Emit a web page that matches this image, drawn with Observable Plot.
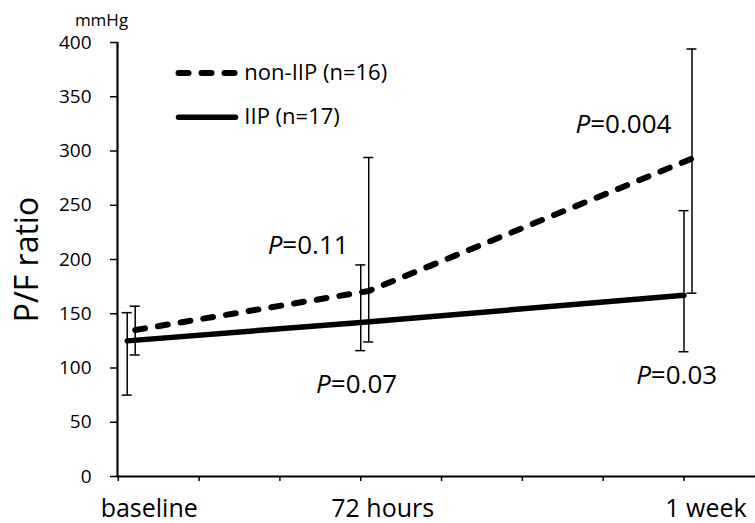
<!DOCTYPE html>
<html>
<head>
<meta charset="utf-8">
<script src="https://cdn.jsdelivr.net/npm/d3@7"></script>
<script src="https://cdn.jsdelivr.net/npm/@observablehq/plot@0.6"></script>
<style>
  html, body { margin: 0; padding: 0; background: #fff; }
  #chart { width: 755px; height: 523px; overflow: hidden; }
</style>
</head>
<body>
<div id="chart"></div>
<script>
// ---- data ----
const timepoints = ["baseline", "72 hours", "1 week"];
const days = [0.11, 3, 7];                 // x position in days
const iipMean = [125, 142, 167];
const iipLow = [75, 116, 115];
const iipHigh = [151, 195, 245];
const nonIipMean = [135, 171, 293];
const nonIipLow = [112, 124, 169];
const nonIipHigh = [157, 294, 394];

const yTicks = [0, 50, 100, 150, 200, 250, 300, 350, 400];
const xTickDays = [0, 1, 2, 3, 4, 5, 6, 7];

const legendLabels = ["non-IIP (n=16)", "IIP (n=17)"];
const legendY = [372, 331];           // mmHg units
const legendX = [0.745, 1.45];        // days (line start / end)
const legendTextX = 1.56;

const pValues = ["0.11", "0.07", "0.004", "0.03"];
const pDay = [2.03, 2.63, 5.84, 6.59];
const pY = [205.5, 77.4, 317, 85.7];

// ---- tables ----
const iip = days.map((d, i) => ({day: d, mean: iipMean[i], low: iipLow[i], high: iipHigh[i]}));
const non = days.map((d, i) => ({day: d, mean: nonIipMean[i], low: nonIipLow[i], high: nonIipHigh[i]}));
const labels = days.map((d, i) => ({day: d, label: timepoints[i]}));
const pTable = pValues.map((v, i) => ({x: pDay[i], y: pY[i], v}));
const legendDash = legendX.map(x => ({x, y: legendY[0]}));
const legendSolid = legendX.map(x => ({x, y: legendY[1]}));
const legendText = legendLabels.map((t, i) => ({x: legendTextX, y: legendY[i], t}));

const cap = 0.062;
const dashOff = 8;
const font = "'Open Sans', sans-serif";

function errorBars(data, dx) {
  return [
    Plot.ruleX(data, {x: "day", y1: "low", y2: "high", dx, stroke: "#000", strokeWidth: 1.5}),
    Plot.ruleY(data, {y: "low", x1: d => d.day - cap, x2: d => d.day + cap, dx, stroke: "#000", strokeWidth: 1.5}),
    Plot.ruleY(data, {y: "high", x1: d => d.day - cap, x2: d => d.day + cap, dx, stroke: "#000", strokeWidth: 1.5})
  ];
}

const chart = Plot.plot({
  width: 755,
  height: 523,
  marginLeft: 117,
  marginRight: 0,
  marginTop: 42,
  marginBottom: 47,
  style: {fontFamily: font, color: "#000", background: "#fff", overflow: "visible"},
  x: {domain: [-0.01, 7.885]},
  y: {domain: [0, 400]},
  marks: [
    Plot.axisY(yTicks, {tickSize: 7, tickPadding: 19, fontSize: 19, label: null, strokeWidth: 1.5}),
    Plot.axisX(xTickDays, {tickSize: 5, tickFormat: () => "", label: null, strokeWidth: 1.5}),
    Plot.ruleX([-0.01], {stroke: "#000", strokeWidth: 2.2}),
    Plot.ruleY([0], {stroke: "#000", strokeWidth: 2.2}),
    ...errorBars(iip, 0),
    ...errorBars(non, dashOff),
    Plot.line(iip, {x: "day", y: "mean", stroke: "#000", strokeWidth: 5.5}),
    Plot.line(non, {x: "day", y: "mean", dx: dashOff, stroke: "#000", strokeWidth: 6,
      strokeDasharray: "10,13", strokeLinecap: "round"}),
    // x category labels
    Plot.text(labels, {x: "day", text: "label", frameAnchor: "bottom", dy: 40, dx: 22,
      lineAnchor: "bottom", fontSize: 25, fill: "#000"}),
    // y title and unit
    Plot.text(["P/F ratio"], {frameAnchor: "left", dx: -80, rotate: -90, lineAnchor: "bottom",
      textAnchor: "middle", fontSize: 32, fill: "#000"}),
    Plot.text(["mmHg"], {frameAnchor: "top-left", dx: -16, dy: -17, textAnchor: "middle",
      lineAnchor: "bottom", fontSize: 17, fill: "#000"}),
    // legend
    Plot.line(legendDash, {x: "x", y: "y", stroke: "#000", strokeWidth: 6,
      strokeDasharray: "10,13", strokeLinecap: "round"}),
    Plot.line(legendSolid, {x: "x", y: "y", stroke: "#000", strokeWidth: 5.5}),
    Plot.text(legendText, {x: "x", y: "y", text: "t", textAnchor: "start", lineAnchor: "middle",
      fontSize: 22, fill: "#000"}),
    // P-values
    Plot.text(pTable, {x: "x", y: "y", text: () => "P", textAnchor: "end", lineAnchor: "bottom",
      fontSize: 26, fontStyle: "italic", fill: "#000"}),
    Plot.text(pTable, {x: "x", y: "y", text: d => "=" + d.v, textAnchor: "start", lineAnchor: "bottom",
      fontSize: 26, fill: "#000"})
  ]
});

document.getElementById("chart").appendChild(chart);
</script>
</body>
</html>
